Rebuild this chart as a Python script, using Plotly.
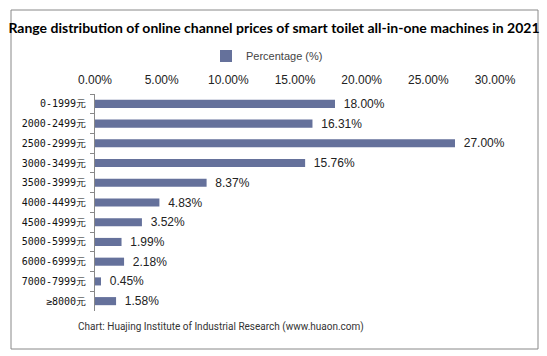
import plotly.graph_objects as go

categories = ["0-1999元", "2000-2499元", "2500-2999元", "3000-3499元", "3500-3999元",
              "4000-4499元", "4500-4999元", "5000-5999元", "6000-6999元", "7000-7999元", "≥8000元"]
values = [18.00, 16.31, 27.00, 15.76, 8.37, 4.83, 3.52, 1.99, 2.18, 0.45, 1.58]
tick_vals = [0, 5, 10, 15, 20, 25, 30]
tick_text = ["0.00%", "5.00%", "10.00%", "15.00%", "20.00%", "25.00%", "30.00%"]

L, R, T, B = 95, 52, 94, 45
W, H = 547, 356
pw, ph = W - L - R, H - T - B

def px(x):
    return (x - L) / pw

def py(y):
    return (H - B - y) / ph

fig = go.Figure()
fig.add_trace(go.Bar(
    y=categories, x=values, orientation="h", name="Percentage (%)",
    marker=dict(color="#65719B", line=dict(width=0)),
    text=["\u00a0\u2009" + f"{v:.2f}%" for v in values], textposition="outside",
    constraintext="none",
    textfont=dict(family="Liberation Sans", size=12, color="#222"),
    cliponaxis=False,
))

fig.update_layout(
    width=W, height=H,
    margin=dict(l=L, r=R, t=T, b=B),
    paper_bgcolor="white", plot_bgcolor="white",
    bargap=0.59,
    showlegend=True,
    legend=dict(orientation="h", x=px(206), xanchor="left", y=py(56), yanchor="middle",
                font=dict(family="Liberation Sans", size=11, color="#444"),
                itemwidth=30, bgcolor="rgba(0,0,0,0)"),
    title=dict(text="<b>Range distribution of online channel prices of smart toilet all-in-one machines in 2021</b>",
               x=274 / W, xanchor="center", y=1 - 28 / H, yanchor="middle",
               font=dict(family="Lato", size=14, color="#000")),
    xaxis=dict(side="top", range=[0, 30], tickvals=tick_vals, ticktext=tick_text,
               showgrid=False, zeroline=False, showline=False, ticks="",
               ticklabelstandoff=7,
               tickfont=dict(family="Liberation Sans", size=12, color="#222")),
    yaxis=dict(autorange="reversed", type="category", showline=True, linecolor="#888", linewidth=1,
               ticks="outside", ticklen=4, tickcolor="#888", tickson="boundaries",
               ticklabelstandoff=6,
               tickfont=dict(family="DejaVu Sans Mono", size=10, color="#111"),
               showgrid=False, zeroline=False),
)

fig.add_shape(type="rect", xref="paper", yref="paper",
              x0=px(11), x1=px(538), y0=py(349), y1=py(10),
              line=dict(color="#888", width=1), fillcolor="rgba(0,0,0,0)", layer="below")

fig.add_annotation(text="Chart: Huajing Institute of Industrial Research (www.huaon.com)",
                   xref="paper", yref="paper", x=px(221), y=py(327),
                   xanchor="center", yanchor="middle", showarrow=False,
                   font=dict(family="Roboto", size=10, color="#333"))

fig.write_html("out.html", config={"displayModeBar": False},
               post_script="document.body.style.margin='0';")
